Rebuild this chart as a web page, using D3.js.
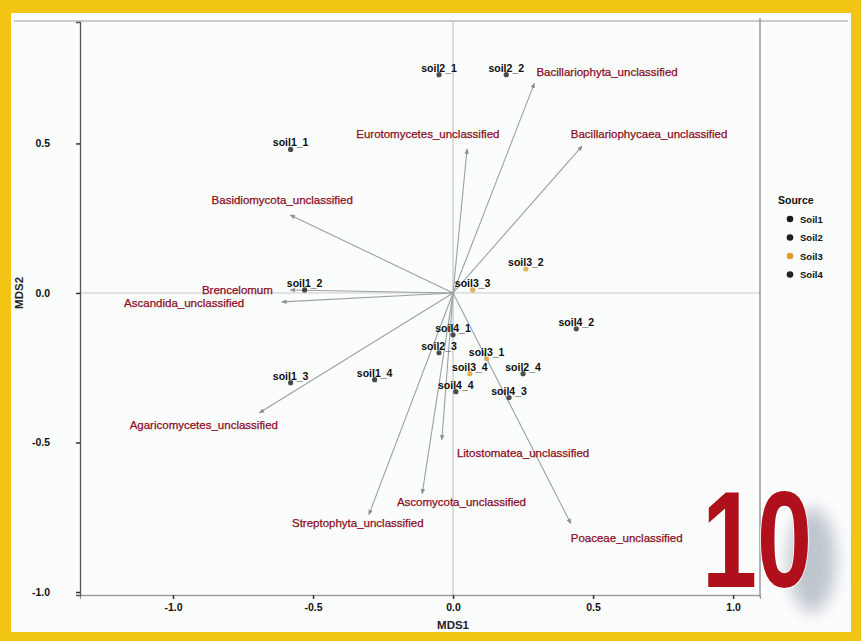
<!DOCTYPE html>
<html><head><meta charset="utf-8">
<script src="https://cdn.jsdelivr.net/npm/d3@7"></script>
<style>
html,body{margin:0;padding:0;background:#f2c414;}
svg{display:block;}
text{font-family:"Liberation Sans",Arial,sans-serif;}
</style></head>
<body>
<svg id="chart" width="861" height="641"></svg>
<script>
// ---- data ----
const sampleNames = ["soil1_1","soil1_2","soil1_3","soil1_4",
                     "soil2_1","soil2_2","soil2_3","soil2_4",
                     "soil3_1","soil3_2","soil3_3","soil3_4",
                     "soil4_1","soil4_2","soil4_3","soil4_4"];
const sampleSource = ["Soil1","Soil1","Soil1","Soil1",
                      "Soil2","Soil2","Soil2","Soil2",
                      "Soil3","Soil3","Soil3","Soil3",
                      "Soil4","Soil4","Soil4","Soil4"];
const sampleMDS1 = [-0.58,-0.53,-0.58,-0.28, -0.05,0.19,-0.05,0.25, 0.12,0.26,0.07,0.06, 0.00,0.44,0.20,0.01];
const sampleMDS2 = [ 0.48, 0.01,-0.30,-0.29,  0.73,0.73,-0.20,-0.27, -0.22,0.08,0.01,-0.27, -0.14,-0.12,-0.35,-0.33];

const taxaNames = ["Bacillariophyta_unclassified","Eurotomycetes_unclassified","Bacillariophycaea_unclassified",
  "Basidiomycota_unclassified","Brencelomum","Ascandida_unclassified","Agaricomycetes_unclassified",
  "Litostomatea_unclassified","Ascomycota_unclassified","Streptophyta_unclassified","Poaceae_unclassified"];
const taxaMDS1 = [0.29, 0.05, 0.46, -0.58, -0.58, -0.61, -0.69, -0.04, -0.11, -0.30, 0.42];
const taxaMDS2 = [0.70, 0.48, 0.49,  0.26,  0.01, -0.03, -0.40, -0.49, -0.67, -0.74, -0.77];
const taxaLabelX = [0.55, -0.09, 0.70, -0.61, -0.77, -0.96, -0.89, 0.25, 0.03, -0.34, 0.62];
const taxaLabelY = [0.74,  0.53, 0.53,  0.31,  0.01, -0.035,-0.44,-0.535,-0.70,-0.77,-0.82];

const sources = ["Soil1","Soil2","Soil3","Soil4"];
const sourceColors = ["#1a1a1a","#1f1f1f","#d9a030","#222222"];

const xTicks = [-1.0,-0.5,0.0,0.5,1.0];
const xTickLabels = ["-1.0","-0.5","0.0","0.5","1.0"];
const yTicks = [-1.0,-0.5,0.0,0.5];
const yTickLabels = ["-1.0","-0.5","0.0","0.5"];

// ---- drawing ----
const svg = d3.select("#chart");
svg.append("rect").attr("x",11).attr("y",13).attr("width",840).attr("height",619).attr("fill","#fbfcfc");

const x = d3.scaleLinear().domain([-1.332,1.096]).range([80,760]);
const y = d3.scaleLinear().domain([-1.01,0.906]).range([595,22]);

// reference lines
svg.append("line").attr("x1",x(0)).attr("x2",x(0)).attr("y1",y.range()[1]).attr("y2",y.range()[0])
  .attr("stroke","#b8bcbc").attr("stroke-width",1);
svg.append("line").attr("x1",x.range()[0]).attr("x2",x.range()[1]).attr("y1",y(0)).attr("y2",y(0))
  .attr("stroke","#c8cccc").attr("stroke-width",1);
svg.append("line").attr("x1",760).attr("x2",760).attr("y1",18).attr("y2",597)
  .attr("stroke","#7a7f80").attr("stroke-width",1.2);
svg.append("line").attr("x1",14).attr("x2",848).attr("y1",21).attr("y2",21)
  .attr("stroke","#9a9c9c").attr("stroke-width",1);

// axes
const fmtX = d => xTickLabels[xTicks.indexOf(d)];
const fmtY = d => yTickLabels[yTicks.indexOf(d)];
const gx = svg.append("g").attr("transform","translate(0,595)")
  .call(d3.axisBottom(x).tickValues(xTicks).tickFormat(fmtX).tickSize(4).tickPadding(5));
const gy = svg.append("g").attr("transform","translate(80,0)")
  .call(d3.axisLeft(y).tickValues(yTicks).tickFormat(fmtY).tickSize(4).tickPadding(26));
gx.select(".domain").attr("stroke","#9aa0a0").attr("stroke-width",1.3);
gy.select(".domain").attr("stroke","#555").attr("stroke-width",1.3);
[gx,gy].forEach(g=>{
  g.selectAll(".tick line").attr("stroke","#333").attr("stroke-width",1.5);
  g.selectAll(".tick text").attr("fill","#111").attr("font-size",10.5).attr("font-weight","bold");
});

svg.append("text").attr("x",x(0)).attr("y",629).attr("text-anchor","middle")
  .attr("font-size",11.5).attr("font-weight","bold").attr("fill","#222").text("MDS1");
svg.append("text").attr("transform",`translate(23,${y(0)}) rotate(-90)`).attr("text-anchor","middle")
  .attr("font-size",11.5).attr("font-weight","bold").attr("fill","#222").text("MDS2");

// arrows
const defs = svg.append("defs");
defs.append("marker").attr("id","arr").attr("viewBox","0 0 10 10").attr("refX",8).attr("refY",5)
  .attr("markerWidth",5).attr("markerHeight",5).attr("orient","auto")
  .append("path").attr("d","M0,1 L10,5 L0,9 Z").attr("fill","#8a9090");

const taxa = taxaNames.map((n,i)=>({n, x:taxaMDS1[i], y:taxaMDS2[i], lx:taxaLabelX[i], ly:taxaLabelY[i]}));
svg.append("g").selectAll("line").data(taxa).join("line")
  .attr("x1",x(0)).attr("y1",y(0)).attr("x2",d=>x(d.x)).attr("y2",d=>y(d.y))
  .attr("stroke","#9aa2a2").attr("stroke-width",1.1).attr("marker-end","url(#arr)");

// samples
const color = d3.scaleOrdinal().domain(sources).range(sourceColors);
const samples = sampleNames.map((n,i)=>({n, s:sampleSource[i], x:sampleMDS1[i], y:sampleMDS2[i]}));
svg.append("g").selectAll("circle").data(samples).join("circle")
  .attr("cx",d=>x(d.x)).attr("cy",d=>y(d.y)).attr("r",2.6).attr("fill",d=>color(d.s)).attr("opacity",0.8);
svg.append("g").selectAll("text").data(samples).join("text")
  .attr("x",d=>x(d.x)).attr("y",d=>y(d.y)-3).attr("text-anchor","middle")
  .attr("font-size",10.5).attr("font-weight","bold").attr("fill","#0d0d0d").text(d=>d.n);

// taxa labels
svg.append("g").selectAll("text").data(taxa).join("text")
  .attr("x",d=>x(d.lx)).attr("y",d=>y(d.ly)+4).attr("text-anchor","middle")
  .attr("font-size",11.5).attr("fill","#8a0c1e").attr("stroke","#8a0c1e").attr("stroke-width",0.25)
  .text(d=>d.n);

// legend
const lg = svg.append("g").attr("transform","translate(778,0)");
lg.append("text").attr("x",0).attr("y",204).attr("font-size",10.5).attr("font-weight","bold").attr("fill","#111").text("Source");
lg.selectAll("g.item").data(sources).join("g").attr("class","item")
  .attr("transform",(d,i)=>`translate(0,${219+i*18.5})`)
  .each(function(d){
    const g=d3.select(this);
    g.append("circle").attr("cx",12).attr("cy",0).attr("r",3.3).attr("fill",color(d));
    g.append("text").attr("x",22).attr("y",3.5).attr("font-size",9.5).attr("font-weight","bold").attr("fill","#111").text(d);
  });

// big "10" badge
const blur = defs.append("filter").attr("id","soft").attr("x","-50%").attr("y","-50%").attr("width","200%").attr("height","200%");
blur.append("feGaussianBlur").attr("stdDeviation",8);
const badge = svg.append("g");
badge.append("ellipse").attr("cx",812).attr("cy",560).attr("rx",24).attr("ry",52)
  .attr("fill","#8e9aa8").attr("opacity",0.55).attr("filter","url(#soft)");
badge.append("text").attr("x",702).attr("y",587).attr("font-size",138).attr("font-weight","bold")
  .attr("textLength",110).attr("lengthAdjust","spacingAndGlyphs")
  .attr("fill","#b0101c").attr("stroke","#ffffff").attr("stroke-width",2).attr("paint-order","stroke")
  .text("10");
</script>
</body></html>
